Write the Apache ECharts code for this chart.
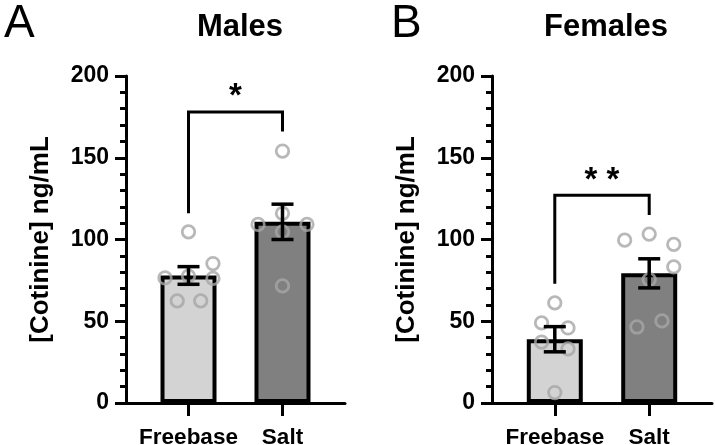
<!DOCTYPE html>
<html><head><meta charset="utf-8">
<script src="https://cdn.jsdelivr.net/npm/echarts@6/dist/echarts.min.js"></script>
<style>html,body{margin:0;padding:0;background:#fff}#c{width:715px;height:445px}</style>
</head><body><div id="c"></div>
<script>
// ---- data ----
const groups = ['Freebase', 'Salt'];
const groupX = [1, 2];
const yTicks = [0, 50, 100, 150, 200];
const panelLetters = ['A', 'B'];
const panelTitles = ['Males', 'Females'];
const yName = '[Cotinine] ng/mL';

const malesMean = [78, 110.8];
const malesSem = [5.4, 10.8];
const femalesMean = [39, 79.3];
const femalesSem = [7.7, 8.9];

const malesFreebaseX = [1, 1.26, 0.75, 1, 1.26, 0.88, 1.13];
const malesFreebaseY = [104.7, 85.3, 76.5, 77.6, 76.2, 62.5, 62.5];
const malesSaltX = [2, 2, 1.74, 2.26, 2, 2];
const malesSaltY = [154.1, 116, 109.2, 109.2, 104.7, 71.6];
const femalesFreebaseX = [1, 0.86, 1.14, 0.86, 1.14, 1];
const femalesFreebaseY = [61.2, 49, 45.9, 37.2, 33.1, 6.4];
const femalesSaltX = [1.74, 2, 2.26, 2.26, 2, 1.87, 2.135];
const femalesSaltY = [99.6, 103.3, 97, 83.3, 75.5, 46.5, 50.2];

// significance brackets: [x1, x2, yTop, yLeftEnd, yRightEnd]
const malesBracket = [1, 2, 178, 116, 166];
const femalesBracket = [1, 2, 127, 73, 115];
const malesStars = '*';
const femalesStars = '* *';
const malesStarY = 187;
const femalesStarY = 136;

// ---- styles ----
const FONT = 'Liberation Sans, Arial, sans-serif';
const barColors = ['#d3d3d3', '#808080'];
const grids = [
  { left: 126, top: 76, width: 219, height: 327, outerBoundsMode: 'none', containLabel: false },
  { left: 492, top: 76, width: 220, height: 327, outerBoundsMode: 'none', containLabel: false }
];

function zip(xs, ys) { return xs.map((x, i) => [x, ys[i]]); }

function xAxisCfg(gi) {
  return {
    type: 'value', gridIndex: gi, min: 0.335, max: 2.665,
    axisLine: { show: true, onZero: false, lineStyle: { color: '#000', width: 3 } },
    axisTick: { show: true, customValues: groupX, length: 13, lineStyle: { color: '#000', width: 3 } },
    axisLabel: {
      show: true, customValues: groupX, margin: 23,
      formatter: v => groups[groupX.indexOf(v)] || '',
      color: '#000', fontFamily: FONT, fontWeight: 'bold', fontSize: 22.5
    },
    splitLine: { show: false }
  };
}
function yAxisCfg(gi) {
  return {
    type: 'value', gridIndex: gi, min: yTicks[0], max: yTicks[yTicks.length - 1],
    interval: yTicks[1] - yTicks[0],
    name: yName, nameLocation: 'middle', nameGap: 72, nameRotate: 90,
    nameTextStyle: { color: '#000', fontFamily: FONT, fontWeight: 'bold', fontSize: 26 },
    axisLine: { show: true, lineStyle: { color: '#000', width: 3 } },
    axisTick: { show: true, length: 11, lineStyle: { color: '#000', width: 3 } },
    minorTick: { show: true, splitNumber: 5, length: 6, lineStyle: { color: '#000', width: 3 } },
    axisLabel: { color: '#000', fontFamily: FONT, fontWeight: 'bold', fontSize: 23, margin: 17 },
    splitLine: { show: false }
  };
}

function barSeries(gi, means) {
  return {
    type: 'bar', xAxisIndex: gi, yAxisIndex: gi, barWidth: 56, z: 2,
    data: means.map((m, i) => ({
      value: [groupX[i], m],
      itemStyle: { color: barColors[i], borderColor: '#000', borderWidth: 4 }
    }))
  };
}
function pointSeries(gi, pts) {
  return {
    type: 'scatter', xAxisIndex: gi, yAxisIndex: gi, z: 3,
    symbol: 'circle', symbolSize: 12.5,
    itemStyle: { color: 'rgba(0,0,0,0)', borderColor: '#a6a6a6', borderWidth: 2.8 },
    data: pts
  };
}
function errSeries(gi, means, sems) {
  return {
    type: 'custom', xAxisIndex: gi, yAxisIndex: gi, z: 4,
    data: means.map((m, i) => [groupX[i], m, sems[i]]),
    renderItem: (params, api) => {
      const x = api.value(0), m = api.value(1), s = api.value(2);
      const hi = api.coord([x, m + s]), lo = api.coord([x, m - s]);
      const hw = 11;
      const st = { stroke: '#000', lineWidth: 3.5 };
      return { type: 'group', children: [
        { type: 'line', shape: { x1: hi[0], y1: hi[1], x2: lo[0], y2: lo[1] }, style: st },
        { type: 'line', shape: { x1: hi[0] - hw, y1: hi[1], x2: hi[0] + hw, y2: hi[1] }, style: st },
        { type: 'line', shape: { x1: lo[0] - hw, y1: lo[1], x2: lo[0] + hw, y2: lo[1] }, style: st }
      ]};
    }
  };
}
function bracketSeries(gi, b, stars, starY) {
  return {
    type: 'custom', xAxisIndex: gi, yAxisIndex: gi, z: 5,
    data: [[b[0], b[1], b[2], b[3], b[4], starY]],
    renderItem: (params, api) => {
      const x1 = api.value(0), x2 = api.value(1), yt = api.value(2), y1 = api.value(3), y2 = api.value(4), ys = api.value(5);
      const p1 = api.coord([x1, y1]), p2 = api.coord([x1, yt]), p3 = api.coord([x2, yt]), p4 = api.coord([x2, y2]);
      const ps = api.coord([(x1 + x2) / 2, ys]);
      return { type: 'group', children: [
        { type: 'polyline', shape: { points: [p1, p2, p3, p4] }, style: { stroke: '#000', lineWidth: 3, fill: null } },
        { type: 'text', x: ps[0], y: ps[1], style: { text: stars, fill: '#000', font: 'bold 33px ' + FONT, align: 'center', verticalAlign: 'middle' } }
      ]};
    }
  };
}

const chart = echarts.init(document.getElementById('c'), null, { renderer: 'canvas' });
chart.setOption({
  animation: false,
  backgroundColor: '#fff',
  title: [
    { text: panelLetters[0], left: -1, top: -4, textStyle: { fontFamily: FONT, fontWeight: 'normal', fontSize: 46, color: '#000' } },
    { text: panelLetters[1], left: 386, top: -4, textStyle: { fontFamily: FONT, fontWeight: 'normal', fontSize: 46, color: '#000' } },
    { text: panelTitles[0], left: 235, textAlign: 'center', top: 7, textStyle: { fontFamily: FONT, fontWeight: 'bold', fontSize: 31, color: '#000' } },
    { text: panelTitles[1], left: 601, textAlign: 'center', top: 7, textStyle: { fontFamily: FONT, fontWeight: 'bold', fontSize: 31, color: '#000' } }
  ],
  grid: grids,
  xAxis: [xAxisCfg(0), xAxisCfg(1)],
  yAxis: [yAxisCfg(0), yAxisCfg(1)],
  series: [
    barSeries(0, malesMean),
    pointSeries(0, zip(malesFreebaseX, malesFreebaseY).concat(zip(malesSaltX, malesSaltY))),
    errSeries(0, malesMean, malesSem),
    bracketSeries(0, malesBracket, malesStars, malesStarY),
    barSeries(1, femalesMean),
    pointSeries(1, zip(femalesFreebaseX, femalesFreebaseY).concat(zip(femalesSaltX, femalesSaltY))),
    errSeries(1, femalesMean, femalesSem),
    bracketSeries(1, femalesBracket, femalesStars, femalesStarY)
  ]
});
</script>
</body></html>
